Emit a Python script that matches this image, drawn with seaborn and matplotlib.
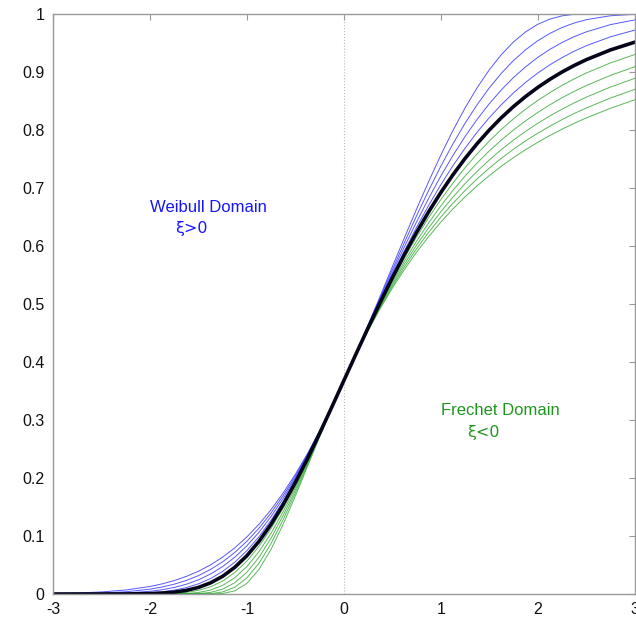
import matplotlib
matplotlib.use("Agg")
import matplotlib.pyplot as plt
import seaborn as sns
from matplotlib.ticker import FuncFormatter

# values (cumulative probability vs x)
x = [-3.0, -2.75, -2.5, -2.25, -2.0, -1.875, -1.75, -1.625, -1.5, -1.375, -1.25, -1.125,
     -1.0, -0.875, -0.75, -0.625, -0.5, -0.375, -0.25, -0.125, 0.0, 0.125, 0.25, 0.375,
     0.5, 0.625, 0.75, 0.875, 1.0, 1.125, 1.25, 1.375, 1.5, 1.625, 1.75, 1.875,
     2.0, 2.125, 2.25, 2.375, 2.5, 2.75, 3.0]

gumbel = [0.0000, 0.0000, 0.0000, 0.0001, 0.0006, 0.0015, 0.0032, 0.0062, 0.0113, 0.0192, 0.0305, 0.0460,
          0.0660, 0.0908, 0.1204, 0.1544, 0.1923, 0.2334, 0.2769, 0.3220, 0.3679, 0.4137, 0.4589, 0.5029,
          0.5452, 0.5855, 0.6235, 0.6591, 0.6922, 0.7228, 0.7509, 0.7766, 0.8000, 0.8213, 0.8405, 0.8578,
          0.8734, 0.8874, 0.9000, 0.9112, 0.9212, 0.9381, 0.9514]

# Weibull domain (blue)
weibull_01 = [0.0000, 0.0000, 0.0001, 0.0005, 0.0021, 0.0038, 0.0066, 0.0110, 0.0175, 0.0266, 0.0389, 0.0548,
              0.0747, 0.0989, 0.1273, 0.1599, 0.1962, 0.2357, 0.2780, 0.3223, 0.3679, 0.4140, 0.4601, 0.5054,
              0.5495, 0.5918, 0.6322, 0.6702, 0.7056, 0.7385, 0.7686, 0.7963, 0.8213, 0.8438, 0.8641, 0.8822,
              0.8982, 0.9124, 0.9248, 0.9358, 0.9453, 0.9607, 0.9722]
weibull_02 = [0.0000, 0.0001, 0.0005, 0.0016, 0.0046, 0.0073, 0.0113, 0.0168, 0.0244, 0.0344, 0.0473, 0.0634,
              0.0831, 0.1065, 0.1338, 0.1650, 0.1998, 0.2380, 0.2791, 0.3226, 0.3679, 0.4143, 0.4613, 0.5081,
              0.5541, 0.5988, 0.6416, 0.6823, 0.7206, 0.7561, 0.7888, 0.8185, 0.8453, 0.8693, 0.8905, 0.9090,
              0.9252, 0.9391, 0.9509, 0.9609, 0.9692, 0.9817, 0.9898]
weibull_03 = [0.0002, 0.0006, 0.0016, 0.0038, 0.0083, 0.0120, 0.0169, 0.0233, 0.0317, 0.0423, 0.0555, 0.0716,
              0.0909, 0.1136, 0.1399, 0.1698, 0.2032, 0.2401, 0.2801, 0.3228, 0.3679, 0.4146, 0.4625, 0.5108,
              0.5589, 0.6062, 0.6521, 0.6960, 0.7375, 0.7761, 0.8116, 0.8438, 0.8726, 0.8979, 0.9198, 0.9384,
              0.9539, 0.9666, 0.9767, 0.9844, 0.9902, 0.9970, 0.9995]
weibull_04 = [0.0008, 0.0017, 0.0035, 0.0069, 0.0129, 0.0174, 0.0231, 0.0303, 0.0392, 0.0502, 0.0636, 0.0795,
              0.0984, 0.1203, 0.1456, 0.1743, 0.2065, 0.2421, 0.2811, 0.3231, 0.3679, 0.4149, 0.4637, 0.5137,
              0.5642, 0.6144, 0.6637, 0.7113, 0.7567, 0.7991, 0.8380, 0.8730, 0.9038, 0.9301, 0.9519, 0.9692,
              0.9823, 0.9913, 0.9968, 0.9994, 1.0000, 1.0000, 1.0000]

# Frechet domain (green)
frechet_01 = [0.0000, 0.0000, 0.0000, 0.0000, 0.0001, 0.0003, 0.0011, 0.0028, 0.0062, 0.0124, 0.0224, 0.0370,
              0.0568, 0.0822, 0.1130, 0.1486, 0.1882, 0.2310, 0.2758, 0.3217, 0.3679, 0.4134, 0.4579, 0.5006,
              0.5412, 0.5796, 0.6156, 0.6491, 0.6801, 0.7086, 0.7349, 0.7590, 0.7810, 0.8010, 0.8193, 0.8359,
              0.8509, 0.8645, 0.8769, 0.8881, 0.8982, 0.9157, 0.9301]
frechet_02 = [0.0000, 0.0000, 0.0000, 0.0000, 0.0000, 0.0000, 0.0002, 0.0008, 0.0026, 0.0068, 0.0148, 0.0280,
              0.0473, 0.0731, 0.1050, 0.1423, 0.1839, 0.2284, 0.2746, 0.3214, 0.3679, 0.4132, 0.4568, 0.4983,
              0.5375, 0.5741, 0.6083, 0.6399, 0.6691, 0.6960, 0.7206, 0.7432, 0.7639, 0.7828, 0.8001, 0.8159,
              0.8303, 0.8435, 0.8556, 0.8666, 0.8766, 0.8942, 0.9090]
frechet_03 = [0.0000, 0.0000, 0.0000, 0.0000, 0.0000, 0.0000, 0.0000, 0.0001, 0.0007, 0.0028, 0.0083, 0.0194,
              0.0375, 0.0633, 0.0964, 0.1356, 0.1792, 0.2257, 0.2734, 0.3211, 0.3679, 0.4129, 0.4558, 0.4962,
              0.5339, 0.5690, 0.6015, 0.6314, 0.6590, 0.6843, 0.7076, 0.7288, 0.7484, 0.7663, 0.7827, 0.7978,
              0.8116, 0.8243, 0.8359, 0.8467, 0.8566, 0.8741, 0.8890]
frechet_04 = [0.0000, 0.0000, 0.0000, 0.0000, 0.0000, 0.0000, 0.0000, 0.0000, 0.0001, 0.0006, 0.0035, 0.0116,
              0.0277, 0.0531, 0.0872, 0.1284, 0.1743, 0.2228, 0.2722, 0.3208, 0.3679, 0.4126, 0.4548, 0.4941,
              0.5305, 0.5642, 0.5951, 0.6236, 0.6498, 0.6737, 0.6957, 0.7158, 0.7343, 0.7513, 0.7669, 0.7813,
              0.7945, 0.8067, 0.8179, 0.8284, 0.8380, 0.8551, 0.8700]
frechet_05 = [0.0000, 0.0000, 0.0000, 0.0000, 0.0000, 0.0000, 0.0000, 0.0000, 0.0000, 0.0000, 0.0008, 0.0054,
              0.0183, 0.0424, 0.0773, 0.1205, 0.1690, 0.2199, 0.2709, 0.3205, 0.3679, 0.4124, 0.4538, 0.4921,
              0.5273, 0.5596, 0.5893, 0.6163, 0.6412, 0.6639, 0.6848, 0.7038, 0.7214, 0.7376, 0.7525, 0.7661,
              0.7788, 0.7905, 0.8013, 0.8114, 0.8208, 0.8375, 0.8521]

weibull_curves = [weibull_01, weibull_02, weibull_03, weibull_04]
frechet_curves = [frechet_01, frechet_02, frechet_03, frechet_04, frechet_05]

sns.set_style("white")
plt.rcParams["font.family"] = ["Liberation Sans", "DejaVu Sans"]
plt.rcParams["axes.unicode_minus"] = False

fig = plt.figure(figsize=(6.36, 6.17), dpi=100)
ax = fig.add_axes([0.0833, 0.0373, 0.9147, 0.9400])

ax.axvline(0, color="#bbbbbb", linestyle=":", linewidth=0.8, zorder=0)

for vals in weibull_curves:
    sns.lineplot(x=x, y=vals, ax=ax, color="#2020ff", linewidth=0.7, alpha=0.75)
for vals in frechet_curves:
    sns.lineplot(x=x, y=vals, ax=ax, color="#22a022", linewidth=0.7, alpha=0.75)
sns.lineplot(x=x, y=gumbel, ax=ax, color="#05051a", linewidth=2.6)

ax.text(-2.0, 0.666, "Weibull Domain", color="#1515ff", fontsize=12, va="center")
ax.text(-1.74, 0.631, "ξ>0", color="#1515ff", fontsize=11.5, va="center",
        family=["DejaVu Sans"])
ax.text(1.0, 0.317, "Frechet Domain", color="#1e961e", fontsize=12, va="center")
ax.text(1.27, 0.279, "ξ<0", color="#1e961e", fontsize=11.5, va="center",
        family=["DejaVu Sans"])

ax.set_xlim(-3, 3)
ax.set_ylim(0, 1)
ax.set_xticks(range(-3, 4))
ax.set_yticks([i / 10 for i in range(11)])
ax.yaxis.set_major_formatter(FuncFormatter(lambda v, p: "%g" % round(v, 1)))
ax.tick_params(direction="in", length=4, width=0.8, color="#999999",
               top=True, right=True, labelsize=11.5, labelcolor="#111111", pad=6)
for s in ax.spines.values():
    s.set_color("#999999")
    s.set_linewidth(1.0)
ax.set_xlabel("")
ax.set_ylabel("")

fig.savefig("out.png", dpi=100)
